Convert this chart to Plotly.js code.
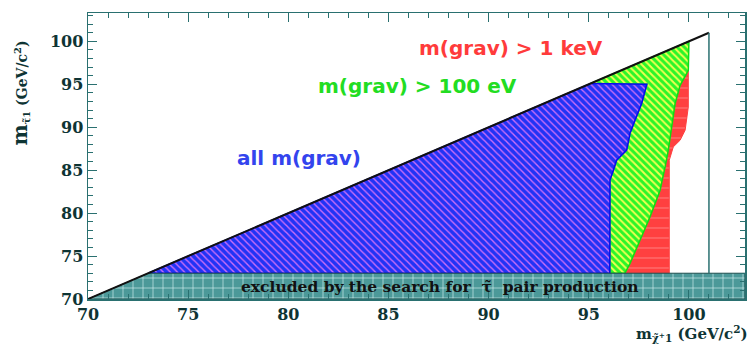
<!DOCTYPE html>
<html>
<head>
<meta charset="utf-8">
<script src="https://cdn.plot.ly/plotly-3.0.1.min.js"></script>
<style>html,body{margin:0;padding:0;background:#fff;}#chart{width:747px;height:358px;}</style>
</head>
<body>
<div id="chart"></div>
<script>
// ---- data ----
// kinematic limits
const diagX = [70, 101];
const diagY = [70, 101];
const limitX = [101, 101];
const limitY = [73, 101];
// band excluded by direct stau pair search
const bandX = [70, 73, 102.8, 102.8, 70];
const bandY = [70, 73, 73, 70, 70];
// excluded for all gravitino masses
const blueX = [73, 95.1, 97.9, 97.64, 97.31, 97.06, 96.89, 96.39, 96.23, 96.06, 96.05, 73];
const blueY = [73, 95.1, 95.0, 92.76, 90.81, 89.3, 87.33, 86.16, 85.0, 83.84, 73, 73];
// additionally excluded for m(grav) > 100 eV
const greenX = [95.1, 100.0, 99.97, 99.56, 99.31, 99.14, 98.97, 98.81, 98.56, 98.06, 97.56, 97.06, 96.8, 96.05, 96.06, 96.23, 96.39, 96.89, 97.06, 97.31, 97.64, 97.9, 95.1];
const greenY = [95.1, 100.0, 96.63, 94.88, 92.76, 90.03, 87.33, 85.38, 82.67, 79.57, 76.86, 74.15, 73, 73, 83.84, 85.0, 86.16, 87.33, 89.3, 90.81, 92.76, 95.0, 95.1];
// additionally excluded for m(grav) > 1 keV
const redX = [99.97, 99.97, 99.81, 99.56, 99.22, 99.02, 99.02, 96.8, 97.06, 97.56, 98.06, 98.56, 98.81, 98.97, 99.14, 99.31, 99.56, 99.97];
const redY = [96.63, 92.36, 89.65, 88.49, 87.71, 86.16, 73, 73, 74.15, 76.86, 79.57, 82.67, 85.38, 87.33, 90.03, 92.76, 94.88, 96.63];
// axis ticks
const tickVals = [70, 75, 80, 85, 90, 95, 100];
const tickText = ['70', '75', '80', '85', '90', '95', '100'];

const axisCol = '#2a7070';
const labCol = '#0e3434';
const serif = 'DejaVu Serif, Liberation Serif, serif';
const sans = 'DejaVu Sans, Liberation Sans, sans-serif';

const traces = [
  {x: redX, y: redY, mode: 'lines', fill: 'toself', line: {color: '#ff4040', width: 1},
   fillcolor: '#ff4040', fillpattern: {shape: '-', bgcolor: '#ff4040', fgcolor: '#ff8f8f', size: 10, solidity: 0.08},
   hoverinfo: 'skip', showlegend: false},
  {x: greenX, y: greenY, mode: 'lines', fill: 'toself', line: {color: '#11dd11', width: 1.5},
   fillcolor: '#2af52a', fillpattern: {shape: '\\', bgcolor: '#2af52a', fgcolor: '#f0ff50', size: 5, solidity: 0.4},
   hoverinfo: 'skip', showlegend: false},
  {x: blueX, y: blueY, mode: 'lines', fill: 'toself', line: {color: '#0a0aee', width: 1.5},
   fillcolor: '#2233f5', fillpattern: {shape: '\\', bgcolor: '#2233f5', fgcolor: '#d070f5', size: 5, solidity: 0.28},
   hoverinfo: 'skip', showlegend: false},
  {x: bandX, y: bandY, mode: 'lines', fill: 'toself', line: {color: '#1e4d4d', width: 1},
   fillcolor: '#4c9999', fillpattern: {shape: '+', bgcolor: '#4c9999', fgcolor: '#d8f2f2', size: 10, solidity: 0.12},
   hoverinfo: 'skip', showlegend: false},
  {x: diagX, y: diagY, mode: 'lines', line: {color: '#111111', width: 2}, hoverinfo: 'skip', showlegend: false},
  {x: limitX, y: limitY, mode: 'lines', line: {color: axisCol, width: 1.5}, hoverinfo: 'skip', showlegend: false}
];

const axisCommon = {
  showgrid: false, zeroline: false, showline: true, mirror: 'allticks',
  linecolor: axisCol, linewidth: 1.5,
  ticks: 'inside', ticklen: 9, tickwidth: 1, tickcolor: axisCol,
  tickvals: tickVals, ticktext: tickText,
  tickfont: {family: serif, size: 16, color: labCol, weight: 'bold'},
  minor: {dtick: 1, ticks: 'inside', ticklen: 5, tickwidth: 1, tickcolor: axisCol, showgrid: false}
};

const layout = {
  width: 747, height: 358,
  margin: {l: 88, r: 2, t: 13, b: 59},
  paper_bgcolor: '#ffffff', plot_bgcolor: '#ffffff',
  showlegend: false,
  xaxis: Object.assign({}, axisCommon, {range: [70, 102.8]}),
  yaxis: Object.assign({}, axisCommon, {range: [70, 103.3]}),
  annotations: [
    {x: 91.12, y: 99.19, xref: 'x', yref: 'y', text: 'm(grav) > 1 keV', showarrow: false,
     font: {family: sans, size: 20, color: '#ff3b3b', weight: 'bold'}},
    {x: 86.43, y: 94.77, xref: 'x', yref: 'y', text: 'm(grav) > 100 eV', showarrow: false,
     font: {family: sans, size: 20, color: '#22dd22', weight: 'bold'}},
    {x: 80.53, y: 86.4, xref: 'x', yref: 'y', text: 'all m(grav)', showarrow: false,
     font: {family: sans, size: 20, color: '#3344ee', weight: 'bold'}},
    {x: 87.57, y: 71.45, xref: 'x', yref: 'y', text: 'excluded by the search for  τ̃  pair production', showarrow: false,
     font: {family: serif, size: 15.5, color: '#111111', weight: 'bold'}},
    {x: -0.103, y: 0.72, xref: 'paper', yref: 'paper', textangle: -90, showarrow: false,
     xanchor: 'center', yanchor: 'middle',
     text: '<span style="font-size:20px">m</span><sub>τ̃1</sub> (GeV/c<sup>2</sup>)',
     font: {family: serif, size: 14, color: labCol, weight: 'bold'}},
    {x: 1.008, y: -0.119, xref: 'paper', yref: 'paper', showarrow: false,
     xanchor: 'right', yanchor: 'middle',
     text: 'm<sub>χ̃<sup>+</sup>1</sub> (GeV/c<sup>2</sup>)',
     font: {family: serif, size: 15, color: labCol, weight: 'bold'}}
  ]
};

Plotly.newPlot('chart', traces, layout, {displayModeBar: false, staticPlot: true});
</script>
</body>
</html>
